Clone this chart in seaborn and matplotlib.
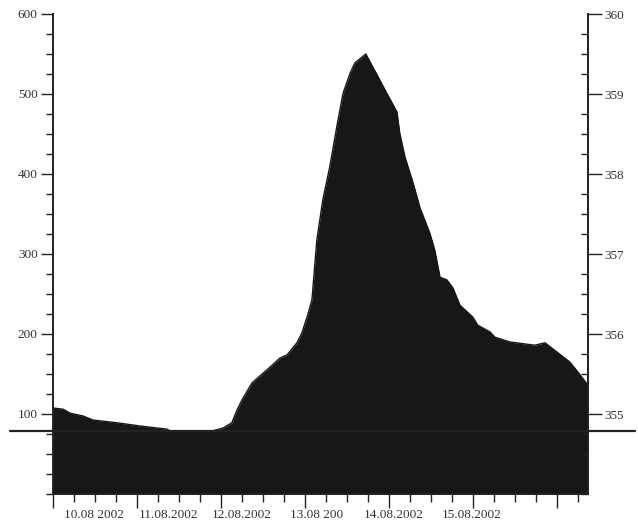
import numpy as np
import pandas as pd
import matplotlib
matplotlib.use("Agg")
import matplotlib.pyplot as plt
from matplotlib.ticker import MultipleLocator, FixedLocator
import seaborn as sns

# ===============================
# DATA (hours from 10.08.2002 00:00, values on left scale)
# ===============================
hours = [0, 2.9, 4.9, 8.6, 11.4, 18.3, 24.9, 32.6, 33.4, 45.7, 48.6, 51.1,
         52.6, 54.0, 56.9, 61.1, 64.9, 66.9, 69.7, 71.1, 72.6, 74.0, 75.4,
         77.1, 79.1, 81.1, 82.9, 84.9, 86.3, 89.4, 92.6, 95.4, 98.3, 99.1,
         100.6, 102.9, 104.9, 107.7, 109.1, 110.6, 112.6, 114.3, 116.3, 120.0,
         121.4, 124.9, 126.3, 130.6, 137.7, 140.6, 144.0, 147.7, 150.0, 152.9]
values = [107.5, 106, 101, 97.5, 92.5, 89, 85, 81, 79, 79, 82.5, 89,
          105, 117.5, 139, 155, 170, 174, 189, 201, 221, 242.5, 317.5,
          367.5, 409, 459, 501, 526, 539, 550, 524, 501, 477.5, 451,
          421, 389, 357.5, 326, 305, 271, 267.5, 257.5, 236, 221,
          211, 202.5, 196, 190, 186, 189, 177.5, 165, 152.5, 136]

date_labels = ["10.08 2002", "11.08.2002", "12.08.2002", "13.08 200",
               "14.08.2002", "15.08.2002"]
date_label_hours = [11.7, 32.9, 54.0, 75.4, 97.4, 119.7]

left_ticks = [100, 200, 300, 400, 500, 600]
right_ticks = [355, 356, 357, 358, 359, 360]
ref_level = 78.75

df = pd.DataFrame({"hour": hours, "value": values})

# ===============================
# STYLE
# ===============================
sns.set_style("ticks")
plt.rcParams["font.family"] = ["Liberation Serif", "DejaVu Serif"]
plt.rcParams["font.size"] = 9.5

fig = plt.figure(figsize=(6.38, 5.21), dpi=100)
ax = fig.add_axes([53 / 638, 27 / 521, 535 / 638, 480 / 521])

fill_col = "#171717"
ax.fill_between(df["hour"], 0, df["value"], color=fill_col, lw=0)
sns.lineplot(data=df, x="hour", y="value", ax=ax, color=fill_col, lw=1)

ax.set_xlim(0, 152.9)
ax.set_ylim(0, 600)
ax.set_xlabel("")
ax.set_ylabel("")

# reference line running past both axes
ax.axhline(ref_level, xmin=-43 / 535, xmax=582 / 535, color="#222222",
           lw=1.6, clip_on=False, zorder=5)

for s in ["left", "right", "bottom"]:
    ax.spines[s].set_linewidth(1.4)
    ax.spines[s].set_color("#222222")
ax.spines["top"].set_visible(False)

# left axis
ax.yaxis.set_major_locator(FixedLocator(left_ticks))
ax.yaxis.set_minor_locator(MultipleLocator(25))
ax.tick_params(axis="y", which="major", direction="out", length=9, width=1,
               pad=2, colors="#222222", labelcolor="#333333")
ax.tick_params(axis="y", which="minor", direction="out", length=5, width=1,
               colors="#222222")

# bottom axis ticks
ax.xaxis.set_major_locator(MultipleLocator(24))
ax.xaxis.set_minor_locator(MultipleLocator(6))
ax.tick_params(axis="x", which="major", direction="out", length=10, width=1,
               labelbottom=False, colors="#222222")
ax.tick_params(axis="x", which="minor", direction="out", length=6, width=1,
               colors="#222222")

# date labels
sec = ax.secondary_xaxis("bottom")
sec.set_xticks(date_label_hours)
sec.set_xticklabels(date_labels)
sec.tick_params(length=0, pad=11, labelcolor="#333333")
sec.spines["bottom"].set_visible(False)

# right axis
ax2 = ax.twinx()
ax2.set_ylim(354, 360)
ax2.yaxis.set_major_locator(FixedLocator(right_ticks))
ax2.yaxis.set_minor_locator(MultipleLocator(0.25))
ax2.tick_params(axis="y", which="major", direction="out", length=10, width=1,
                pad=2, colors="#222222", labelcolor="#333333")
ax2.tick_params(axis="y", which="minor", direction="in", length=5, width=1,
                colors="#222222")
for s in ["left", "top", "bottom"]:
    ax2.spines[s].set_visible(False)
ax2.spines["right"].set_linewidth(1.4)
ax2.spines["right"].set_color("#222222")

fig.savefig("out.png", dpi=100)
